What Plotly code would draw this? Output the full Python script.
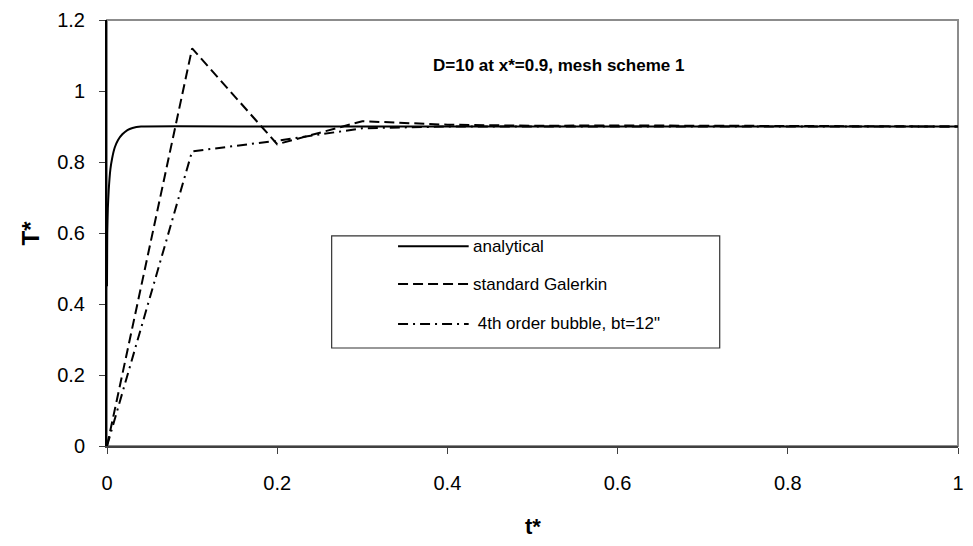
import plotly.graph_objects as go

# Analytical solution, sampled densely over the sharp initial rise
t_analytical = [0.0, 0.0003, 0.001, 0.002, 0.004, 0.006, 0.009, 0.013, 0.018,
                0.024, 0.030, 0.040, 0.2, 0.4, 0.6, 0.8, 1.0]
T_analytical = [0.45, 0.60, 0.67, 0.72, 0.78, 0.81, 0.84, 0.862, 0.878,
                0.89, 0.896, 0.90, 0.90, 0.90, 0.90, 0.90, 0.90]

# Numerical solutions at time steps of 0.1
t_steps = [0.0, 0.1, 0.2, 0.3, 0.4, 0.5, 0.6, 0.7, 0.8, 0.9, 1.0]
T_galerkin = [0.0, 1.12, 0.85, 0.915, 0.905, 0.902, 0.903, 0.902, 0.90, 0.90, 0.90]
T_bubble = [0.0, 0.83, 0.86, 0.895, 0.90, 0.90, 0.90, 0.90, 0.90, 0.90, 0.90]

x_ticks = [0, 0.2, 0.4, 0.6, 0.8, 1]
x_tick_text = ["0", "0.2", "0.4", "0.6", "0.8", "1"]
y_ticks = [0, 0.2, 0.4, 0.6, 0.8, 1.0, 1.2]
y_tick_text = ["0", "0.2", "0.4", "0.6", "0.8", "1", "1.2"]

legend_names = ["analytical", "standard Galerkin", " 4th order bubble, bt=12\""]
legend_dashes = ["solid", "10px,5px", "10px,5px,2px,5px"]
legend_widths = [2, 2, 2]

FONT = "Liberation Sans, Arial, sans-serif"

fig = go.Figure()
fig.add_trace(go.Scatter(x=t_steps, y=T_bubble, mode="lines",
                         line=dict(color="black", width=legend_widths[2], dash=legend_dashes[2]),
                         name=legend_names[2], showlegend=False))
fig.add_trace(go.Scatter(x=t_steps, y=T_galerkin, mode="lines",
                         line=dict(color="black", width=legend_widths[1], dash=legend_dashes[1]),
                         name=legend_names[1], showlegend=False))
fig.add_trace(go.Scatter(x=t_analytical, y=T_analytical, mode="lines",
                         line=dict(color="black", width=legend_widths[0], dash=legend_dashes[0],
                                   shape="spline", smoothing=0.4),
                         name=legend_names[0], showlegend=False))

shapes = []
annotations = []

# Plot-area frame (top and right edges)
shapes.append(dict(type="rect", xref="paper", yref="paper", x0=0, x1=1, y0=0, y1=1,
                   line=dict(color="#8c8c8c", width=2), layer="below"))

# Legend box with line samples
shapes.append(dict(type="rect", xref="x", yref="y", x0=0.264, x1=0.72, y0=0.276, y1=0.592,
                   line=dict(color="#333333", width=1.2), fillcolor="white", layer="above"))
legend_rows = [0.563, 0.456, 0.344]
for name, dash, w, yy in zip(legend_names, legend_dashes, legend_widths, legend_rows):
    shapes.append(dict(type="line", xref="x", yref="y", x0=0.342, x1=0.425, y0=yy, y1=yy,
                       line=dict(color="black", width=w, dash=dash), layer="above"))
    annotations.append(dict(x=0.428, y=yy, xref="x", yref="y", text=name, showarrow=False,
                            xanchor="left", yanchor="middle",
                            font=dict(family=FONT, size=17, color="black")))

annotations.append(dict(x=0.53, y=1.073, xref="x", yref="y",
                        text="<b>D=10 at x*=0.9, mesh scheme 1</b>", showarrow=False,
                        xanchor="center", yanchor="middle",
                        font=dict(family=FONT, size=17, color="black")))
annotations.append(dict(x=-0.09, y=0.5, xref="paper", yref="paper", text="<b>T*</b>",
                        showarrow=False, textangle=-90, xanchor="center", yanchor="middle",
                        font=dict(family=FONT, size=24, color="black")))
annotations.append(dict(x=0.5, y=-0.19, xref="paper", yref="paper", text="<b>t*</b>",
                        showarrow=False, xanchor="center", yanchor="middle",
                        font=dict(family=FONT, size=22, color="black")))

fig.update_layout(
    width=973, height=546,
    margin=dict(l=107, r=9, t=20, b=100),
    paper_bgcolor="white", plot_bgcolor="white",
    showlegend=False,
    font=dict(family=FONT, size=20, color="black"),
    shapes=shapes, annotations=annotations,
    xaxis=dict(range=[0, 1], tickvals=x_ticks, ticktext=x_tick_text,
               showgrid=False, zeroline=False, showline=True, linecolor="#404040",
               linewidth=2, ticks="outside", ticklen=6, tickcolor="#404040", tickwidth=1,
               ticklabelstandoff=12, tickfont=dict(family=FONT, size=20)),
    yaxis=dict(range=[0, 1.2], tickvals=y_ticks, ticktext=y_tick_text,
               showgrid=False, zeroline=False, showline=True, linecolor="black",
               linewidth=2, ticks="outside", ticklen=6, tickcolor="#404040", tickwidth=1,
               ticklabelstandoff=10, tickfont=dict(family=FONT, size=20)),
)

fig.write_html("out.html")
